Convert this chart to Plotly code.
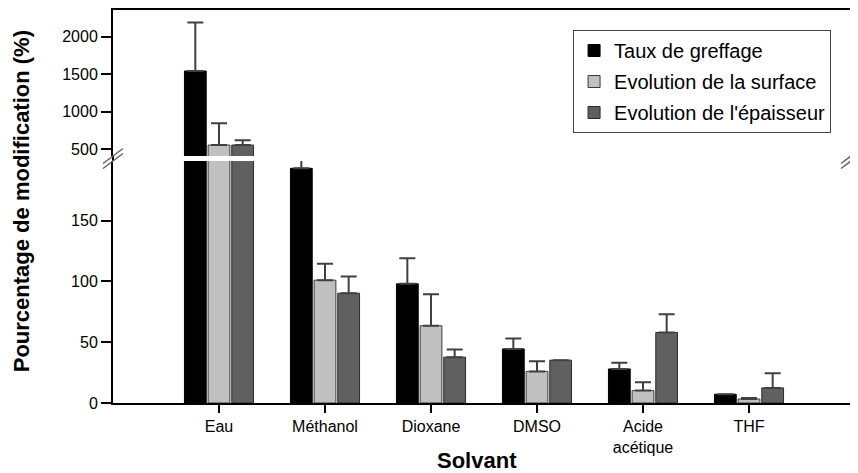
import plotly.graph_objects as go

# data
solvants = ["Eau", "Méthanol", "Dioxane", "DMSO", "Acide<br>acétique", "THF"]
greffage = [1543, 193, 98, 44.5, 28, 7.2]
greffage_err = [645, 7, 21, 8.5, 5, None]
surface = [556, 101, 63.5, 26, 10.2, 3.3]
surface_err = [290, 13.5, 26, 8.4, 6.8, 0.8]
epaisseur = [556, 90.3, 37.7, 35.2, 58, 12.4]
epaisseur_err = [63, 13.7, 6.3, None, 15, 12]

series = [
    ("Taux de greffage", greffage, greffage_err, "#000000", "#000000"),
    ("Evolution de la surface", surface, surface_err, "#c0c0c0", "#3a3a3a"),
    ("Evolution de l'épaisseur", epaisseur, epaisseur_err, "#606060", "#2a2a2a"),
]

# the page body has an 8px margin, so the figure is drawn 8px in and down
OFF = 8
W, H = 858 - OFF, 473 - OFF
L, R, T, B = 113 - OFF, 1, 10 - OFF, 70
PW, PH = W - L - R, H - T - B


def px(x):
    # page pixel -> paper x
    return (x - OFF - L) / PW


def py(y):
    # page pixel -> paper y
    return (H - B - (y - OFF)) / PH


low_top = py(161)
high_bot = py(156)

FONT = "Liberation Sans, Arial, sans-serif"

fig = go.Figure()
for name, vals, errs, color, edge in series:
    for xa, ya, show in (("x", "y", True), ("x2", "y2", False)):
        fig.add_trace(go.Bar(
            x=solvants, y=vals, name=name, legendgroup=name, showlegend=show,
            xaxis=xa, yaxis=ya,
            marker=dict(color=color, line=dict(color=edge, width=1)),
            error_y=dict(type="data", symmetric=False, array=errs,
                         arrayminus=[0] * len(vals), color="#404040",
                         thickness=2, width=8),
        ))

axis_common = dict(showline=True, linecolor="black", linewidth=2,
                   ticks="outside", tickcolor="black", tickwidth=2,
                   showgrid=False, zeroline=False,
                   tickfont=dict(family=FONT, size=16, color="black"))

fig.update_layout(
    width=W, height=H,
    margin=dict(l=L, r=R, t=T, b=B),
    plot_bgcolor="white", paper_bgcolor="white",
    barmode="group", bargap=0.33, bargroupgap=0.08,
    font=dict(family=FONT, color="black"),
    xaxis=dict(domain=[0, 1], anchor="y", range=[-1, 6], ticklen=8,
               **axis_common),
    xaxis2=dict(domain=[0, 1], anchor="y2", matches="x", side="top",
                showline=True, linecolor="black", linewidth=2,
                ticks="", showticklabels=False, showgrid=False, zeroline=False),
    yaxis=dict(domain=[0, low_top], anchor="x", range=[0, 199],
               tickvals=[0, 50, 100, 150], ticklen=10, mirror=True,
               **axis_common),
    yaxis2=dict(domain=[high_bot, 1], anchor="x2", range=[410, 2356],
                tickvals=[500, 1000, 1500, 2000], ticklen=10, mirror=True,
                **axis_common),
    legend=dict(x=px(833), xanchor="right", y=py(30), yanchor="top",
                bgcolor="white", bordercolor="#444", borderwidth=1,
                font=dict(family=FONT, size=20, color="black"),
                tracegroupgap=2),
    showlegend=True,
)

# axis lines through the break and the break marks
shapes = []
for xp in (0, 1):
    shapes.append(dict(type="line", xref="paper", yref="paper",
                       x0=xp, x1=xp, y0=low_top, y1=high_bot,
                       line=dict(color="black", width=2)))
for cx in (113, 853):
    for dy in (-2.5, 2.5):
        shapes.append(dict(type="line", xref="paper", yref="paper",
                           x0=px(cx - 10), y0=py(166 + dy),
                           x1=px(cx + 10), y1=py(151 + dy),
                           line=dict(color="#666", width=1.5)))
fig.update_layout(shapes=shapes)

fig.add_annotation(text="Pourcentage de modification (%)", textangle=-90,
                   xref="paper", yref="paper", x=px(22), y=py(201),
                   xanchor="center", yanchor="middle", showarrow=False,
                   font=dict(family=FONT, size=22, color="black", weight="bold"))
fig.add_annotation(text="Solvant", xref="paper", yref="paper",
                   x=px(478), y=py(461), xanchor="center", yanchor="middle",
                   showarrow=False,
                   font=dict(family=FONT, size=22, color="black", weight="bold"))

fig.write_html("out.html")
